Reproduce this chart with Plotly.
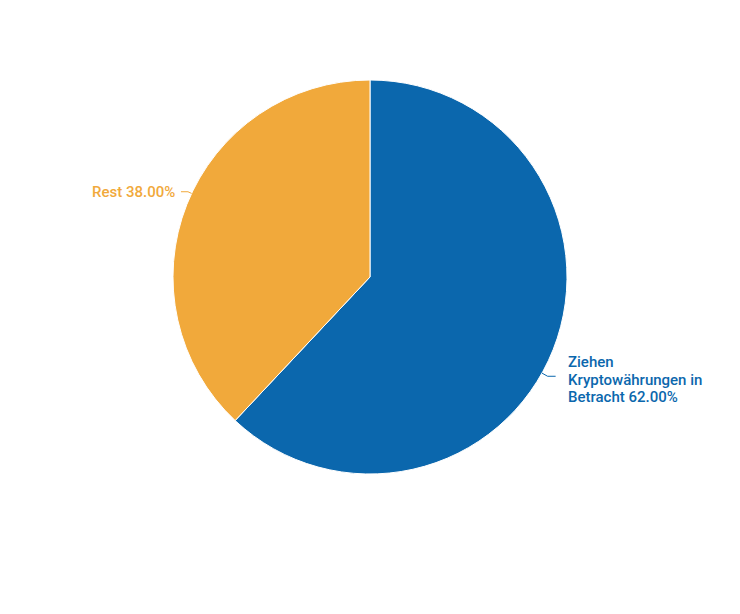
import math
import plotly.graph_objects as go

labels = ["Ziehen Kryptowährungen in Betracht", "Rest"]
label_lines = [["Ziehen", "Kryptowährungen in", "Betracht 62.00%"], ["Rest 38.00%"]]
values = [62.0, 38.0]
colors = ["#0b67ad", "#f1a93b"]

# layout / style
W, H = 740, 614
M = dict(l=165, r=181, t=72, b=148)
PW = W - M["l"] - M["r"]
PH = H - M["t"] - M["b"]
R = min(PW, PH) / 2.0
CX, CY = PW / 2.0, PH / 2.0
angle_tweak = [-7.6, -3.5]   # degrees, label placement nudge
radial_len = [6.5, 4]
horiz_len = [8, 7]
gap = [10, 4]
text_dy = [3.5, 0]
line_h = 17.5
FONT = dict(family="Roboto", size=15, weight=500)

fig = go.Figure(go.Pie(
    labels=labels,
    values=values,
    sort=False,
    direction="clockwise",
    rotation=0,
    marker=dict(colors=colors, line=dict(color="white", width=1)),
    textinfo="none",
    showlegend=False,
    hoverinfo="label+percent",
    domain=dict(x=[0, 1], y=[0, 1]),
))

def to_paper(px, py):
    return px / PW, 1 - py / PH

total = sum(values)
cum = 0.0
shapes, annotations = [], []
for i, v in enumerate(values):
    mid_frac = (cum + v / 2) / total
    cum += v
    theta = 90 - mid_frac * 360 + angle_tweak[i]
    t = math.radians(theta)
    ux, uy = math.cos(t), -math.sin(t)
    p0 = (CX + R * ux, CY + R * uy)
    p1 = (CX + (R + radial_len[i]) * ux, CY + (R + radial_len[i]) * uy)
    side = 1 if ux >= 0 else -1
    p2 = (p1[0] + side * horiz_len[i], p1[1])
    pts = [to_paper(*p) for p in (p0, p1, p2)]
    path = "M {} {} L {} {} L {} {}".format(pts[0][0], pts[0][1], pts[1][0], pts[1][1], pts[2][0], pts[2][1])
    shapes.append(dict(type="path", path=path, xref="paper", yref="paper",
                       line=dict(color=colors[i], width=1)))
    lines = label_lines[i]
    n = len(lines)
    for j, txt in enumerate(lines):
        ly = p2[1] + text_dy[i] + (j - (n - 1) / 2) * line_h
        ax, ay = to_paper(p2[0] + side * gap[i], ly)
        annotations.append(dict(
            x=ax, y=ay, xref="paper", yref="paper", text=txt, showarrow=False,
            xanchor="left" if side > 0 else "right", yanchor="middle",
            align="left" if side > 0 else "right",
            font=dict(color=colors[i], **FONT),
        ))

fig.update_layout(
    width=W, height=H,
    margin=M,
    paper_bgcolor="white",
    plot_bgcolor="white",
    shapes=shapes,
    annotations=annotations,
)
fig.write_html("out.html")
